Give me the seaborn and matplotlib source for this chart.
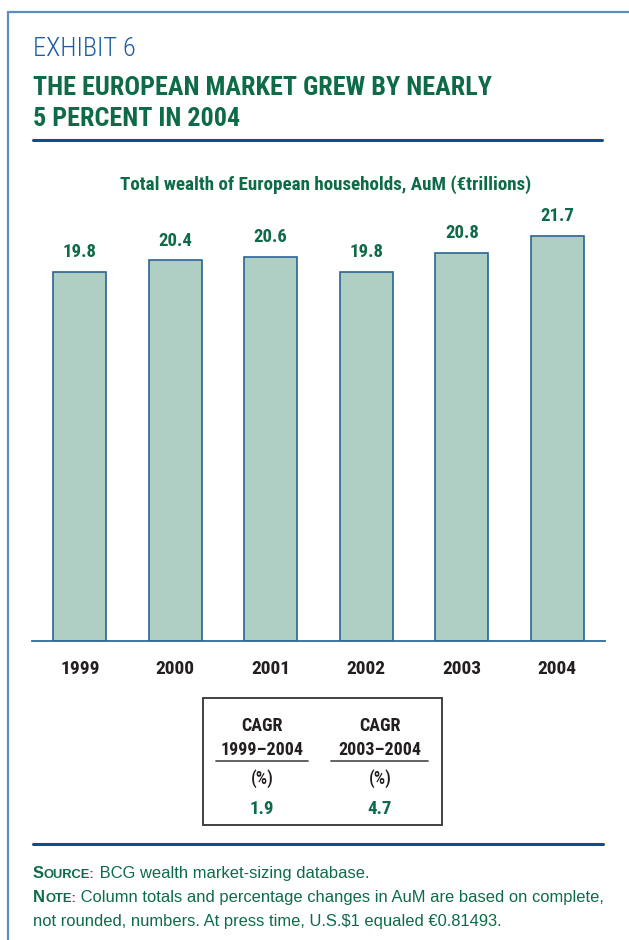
import matplotlib
matplotlib.use("Agg")
import matplotlib.pyplot as plt
import seaborn as sns
import pandas as pd
from matplotlib.patches import Rectangle
from matplotlib.lines import Line2D

years = ["1999", "2000", "2001", "2002", "2003", "2004"]
wealth = [19.8, 20.4, 20.6, 19.8, 20.8, 21.7]
value_labels = ["19.8", "20.4", "20.6", "19.8", "20.8", "21.7"]
cagr_headers = ["CAGR\n1999–2004", "CAGR\n2003–2004"]
cagr_values = ["1.9", "4.7"]

exhibit = "EXHIBIT 6"
title_lines = ["THE EUROPEAN MARKET GREW BY NEARLY", "5 PERCENT IN 2004"]
subtitle = "Total wealth of European households, AuM (€trillions)"
source_text = " BCG wealth market-sizing database."
note_text1 = " Column totals and percentage changes in AuM are based on complete,"
note_text2 = "not rounded, numbers. At press time, U.S.$1 equaled €0.81493."

GREEN = "#0e6b47"
BLUE = "#1c5e9e"
BORDER = "#5a8fc2"
BAR = "#afcfc4"
BAR_EDGE = "#2b6593"
DARK = "#231f20"
COND = ["Roboto Condensed", "DejaVu Sans"]
FOOT = ["Liberation Sans", "DejaVu Sans"]

sns.set_theme(style="white")
plt.rcParams["font.family"] = COND

W, H = 629, 940
fig = plt.figure(figsize=(W / 100, H / 100), dpi=100)

def fx(x):
    return x / W

def fy(y):
    return 1 - y / H

# frame border
fig.add_artist(Line2D([fx(8), fx(8)], [fy(12), fy(940)], color=BORDER, lw=1.6, transform=fig.transFigure))
fig.add_artist(Line2D([fx(8), fx(629)], [fy(12), fy(12)], color=BORDER, lw=1.6, transform=fig.transFigure))

# header
fig.text(fx(33), fy(56), exhibit, color=BLUE, fontsize=19, family=COND, weight="light", va="baseline", ha="left")
fig.text(fx(33), fy(95), title_lines[0], color=GREEN, fontsize=18.8, family=COND, weight="bold", va="baseline", ha="left")
fig.text(fx(33), fy(126), title_lines[1], color=GREEN, fontsize=18.8, family=COND, weight="bold", va="baseline", ha="left")
fig.add_artist(Line2D([fx(33), fx(602)], [fy(140), fy(140)], color="#0b4f8f", lw=2.2, transform=fig.transFigure))

# subtitle
fig.text(fx(326), fy(190), subtitle, color=GREEN, fontsize=13.7, family=COND, weight="bold", va="baseline", ha="center")

# chart axes
ax_left, ax_right = 32, 605
ax_bottom = 641
ymax = 24
px_per_unit = 18.66
ax_h = ymax * px_per_unit
ax = fig.add_axes([fx(ax_left), fy(ax_bottom), fx(ax_right - ax_left), ax_h / H])

df = pd.DataFrame({"year": years, "wealth": wealth})
sns.barplot(data=df, x="year", y="wealth", color=BAR, saturation=1, width=0.555,
            edgecolor=BAR_EDGE, linewidth=1.2, ax=ax)
ax.set_xlim(-0.5, len(years) - 0.5)
ax.set_ylim(0, ymax)
ax.set_xlabel("")
ax.set_ylabel("")
ax.set_yticks([])
for s in ["top", "left", "right"]:
    ax.spines[s].set_visible(False)
ax.spines["bottom"].set_color("#2f6a9a")
ax.spines["bottom"].set_linewidth(1.3)
ax.tick_params(axis="x", length=0, pad=14)
for lab in ax.get_xticklabels():
    lab.set_fontfamily(COND)
    lab.set_fontweight("bold")
    lab.set_fontsize(14)
    lab.set_color(DARK)
ax.patch.set_alpha(0)

for i, (v, lab) in enumerate(zip(wealth, value_labels)):
    ax.text(i, v + 1.05, lab, ha="center", va="center", color=GREEN,
            fontsize=13.5, family=COND, weight="bold")

# CAGR box
fig.patches.append(Rectangle((fx(203), fy(825)), fx(442 - 203), (825 - 698) / H,
                             transform=fig.transFigure, fill=False, edgecolor="#333333", lw=1.3))
col_x = [262, 380]
ul = [(216, 308), (331, 428)]
for cx, hdr, val, (u0, u1) in zip(col_x, cagr_headers, cagr_values, ul):
    l1, l2 = hdr.split("\n")
    fig.text(fx(cx), fy(731), l1, ha="center", va="baseline", fontsize=13, family=COND, weight="bold", color=DARK)
    fig.text(fx(cx), fy(755), l2, ha="center", va="baseline", fontsize=13, family=COND, weight="bold", color=DARK)
    fig.add_artist(Line2D([fx(u0), fx(u1)], [fy(761), fy(761)], color="#555555", lw=1.3, transform=fig.transFigure))
    fig.text(fx(cx), fy(784), "(%)", ha="center", va="baseline", fontsize=13, family=COND, weight="medium", color=DARK)
    fig.text(fx(cx), fy(814), val, ha="center", va="baseline", fontsize=13.5, family=COND, weight="bold", color=GREEN)

# footer
fig.add_artist(Line2D([fx(33), fx(603)], [fy(844), fy(844)], color="#0b4f8f", lw=2.2, transform=fig.transFigure))

renderer = fig.canvas.get_renderer()
FS = 11.9

def small_caps_label(x, y, big, small, rest):
    t1 = fig.text(fx(x), fy(y), big, color=GREEN, fontsize=FS, weight="bold", family=FOOT, va="baseline")
    bb = t1.get_window_extent(renderer)
    t2 = fig.text(bb.x1 / W, fy(y), small, color=GREEN, fontsize=FS * 0.78, weight="bold", family=FOOT, va="baseline")
    bb2 = t2.get_window_extent(renderer)
    fig.text(bb2.x1 / W, fy(y), rest, color=GREEN, fontsize=FS, family=FOOT, va="baseline")

small_caps_label(33, 878, "S", "OURCE:", source_text)
small_caps_label(33, 902, "N", "OTE:", note_text1)
fig.text(fx(33), fy(926), note_text2, color=GREEN, fontsize=FS, family=FOOT, va="baseline")

fig.savefig("out.png", dpi=100)
